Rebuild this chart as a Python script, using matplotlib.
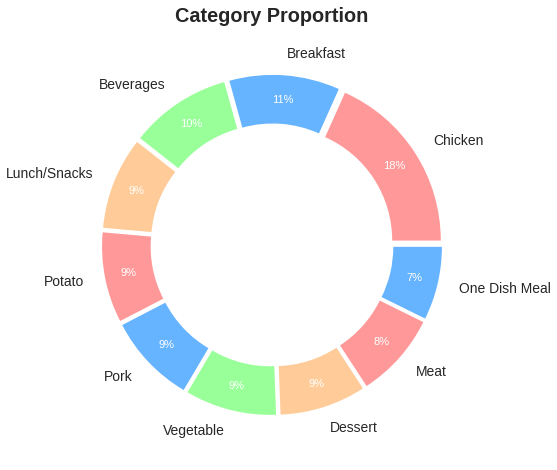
import matplotlib.pyplot as plt

plt.rcParams['font.family'] = ['Liberation Sans', 'DejaVu Sans']

# --- data ---
categories = ["Chicken", "Breakfast", "Beverages", "Lunch/Snacks", "Potato",
              "Pork", "Vegetable", "Dessert", "Meat", "One Dish Meal"]
shares = [18.3, 11.0, 10.1, 9.2, 9.0, 8.9, 9.1, 8.6, 8.5, 7.3]
palette = ["#ff9999", "#66b3ff", "#99ff99", "#ffcc99"]
colors = [palette[i % len(palette)] for i in range(len(categories))]

# --- figure ---
W, H = 557, 470
fig = plt.figure(figsize=(W / 100, H / 100), dpi=100)
cx, cy, L, R = 272, 225, 220, 162
ax = fig.add_axes([(cx - L) / W, (cy - L) / H, 2 * L / W, 2 * L / H])

wedges, texts, autotexts = ax.pie(
    shares, labels=categories, colors=colors, startangle=0,
    explode=[0.05] * len(shares), autopct="%1.0f%%", pctdistance=0.85,
    labeldistance=1.135, wedgeprops=dict(width=0.3),
    textprops=dict(fontsize=10, color="#262626"))
for t in autotexts:
    t.set_color("white")
    t.set_fontsize(8)

ax.set_xlim(-L / R, L / R)
ax.set_ylim(-L / R, L / R)
ax.set_aspect("equal")
ax.axis("off")

fig.text(cx / W, 1 - 16 / H, "Category Proportion", ha="center", va="center",
         fontsize=14.3, fontweight="bold", color="#262626")

plt.savefig("out.png", dpi=100)
plt.close()
